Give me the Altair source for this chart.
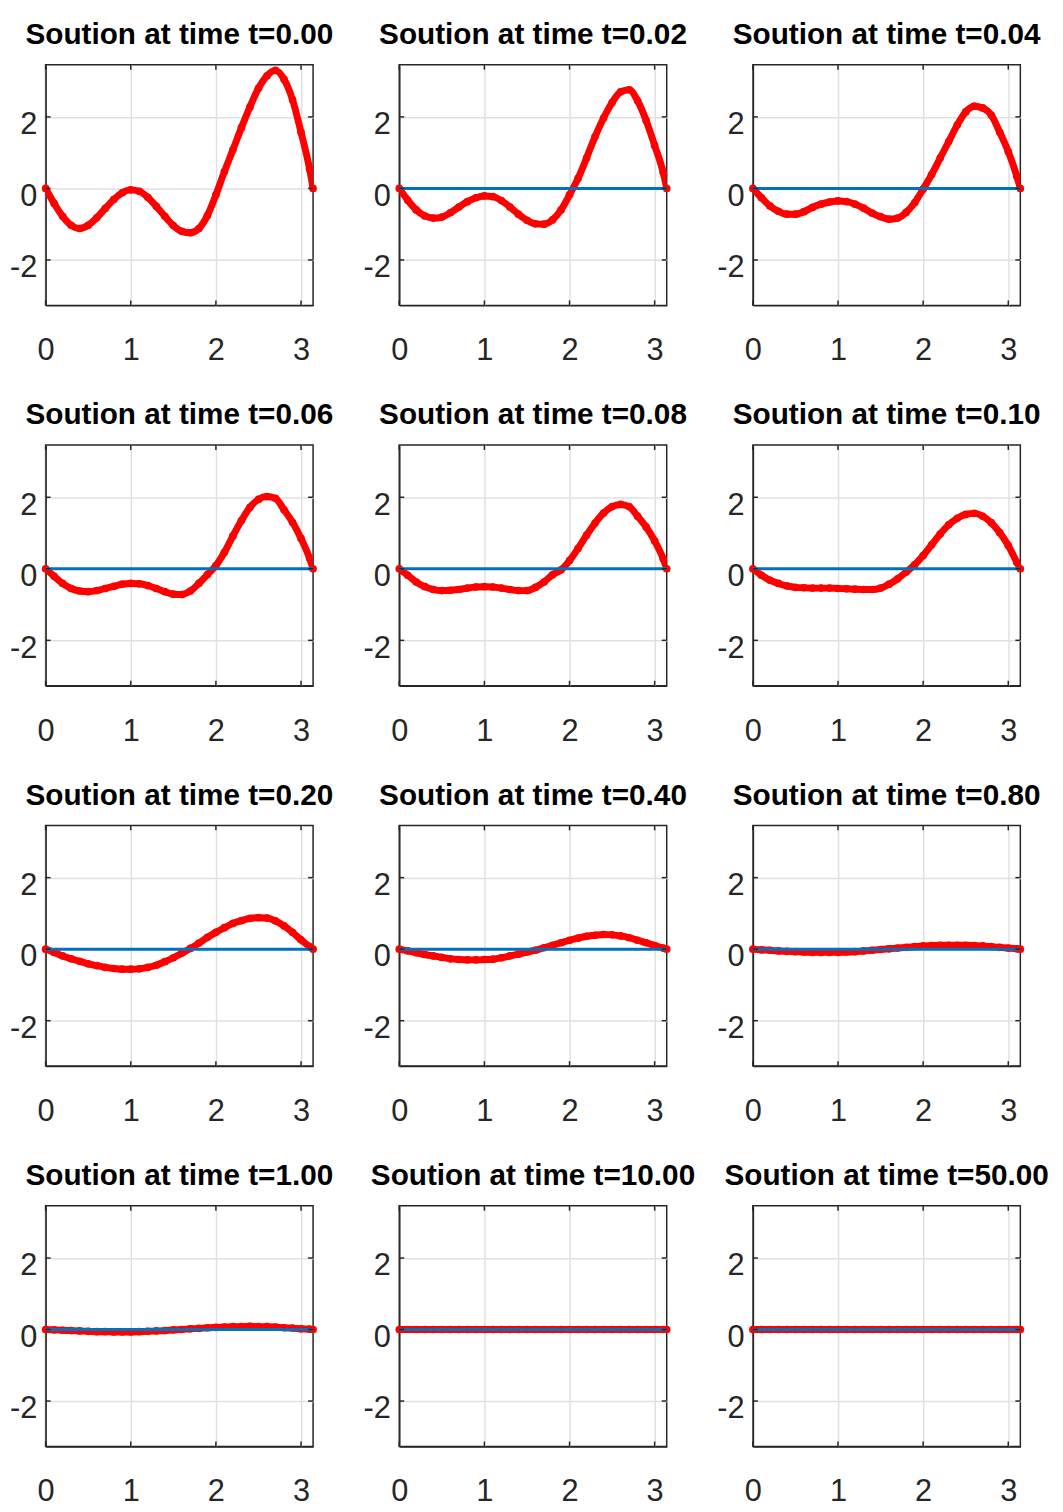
import altair as alt
import pandas as pd

# ---------------- data ----------------
X = [0.0, 0.1, 0.2, 0.3, 0.4, 0.5, 0.6, 0.7, 0.8, 0.9,
     1.0, 1.1, 1.2, 1.3, 1.4, 1.5, 1.6, 1.7, 1.8, 1.9,
     2.0, 2.1, 2.2, 2.3, 2.4, 2.5, 2.6, 2.7, 2.8, 2.9,
     3.0, 3.1, 3.1416]

TIMES = ["0.00", "0.02", "0.04", "0.06", "0.08", "0.10",
         "0.20", "0.40", "0.80", "1.00", "10.00", "50.00"]

U_000 = [0.0, -0.42, -0.78, -1.03, -1.12, -1.03, -0.82, -0.56, -0.31, -0.12,
         -0.04, -0.08, -0.25, -0.50, -0.78, -1.04, -1.20, -1.24, -1.12, -0.76,
         -0.18, 0.47, 1.08, 1.70, 2.28, 2.80, 3.15, 3.30, 3.05, 2.48,
         1.57, 0.55, 0.0]
U_002 = [0.0, -0.33, -0.60, -0.77, -0.83, -0.80, -0.68, -0.52, -0.37, -0.26,
         -0.21, -0.23, -0.34, -0.52, -0.72, -0.89, -0.99, -1.00, -0.88, -0.60,
         -0.18, 0.28, 0.85, 1.45, 1.97, 2.40, 2.70, 2.76, 2.45, 1.90,
         1.20, 0.45, 0.0]
U_004 = [0.0, -0.26, -0.49, -0.64, -0.72, -0.72, -0.65, -0.53, -0.44, -0.38,
         -0.35, -0.37, -0.44, -0.55, -0.69, -0.79, -0.86, -0.83, -0.67, -0.40,
         -0.02, 0.39, 0.85, 1.31, 1.77, 2.14, 2.30, 2.25, 2.05, 1.57,
         1.03, 0.34, 0.0]
U_006 = [0.0, -0.21, -0.41, -0.55, -0.62, -0.64, -0.61, -0.55, -0.49, -0.43,
         -0.41, -0.42, -0.47, -0.55, -0.64, -0.71, -0.72, -0.62, -0.41, -0.16,
         0.09, 0.46, 0.92, 1.35, 1.72, 1.94, 2.02, 1.97, 1.65, 1.30,
         0.85, 0.30, 0.0]
U_008 = [0.0, -0.18, -0.37, -0.50, -0.58, -0.61, -0.60, -0.58, -0.54, -0.51,
         -0.50, -0.51, -0.54, -0.58, -0.61, -0.61, -0.52, -0.37, -0.17, -0.03,
         0.23, 0.57, 0.94, 1.28, 1.56, 1.74, 1.80, 1.74, 1.47, 1.17,
         0.78, 0.28, 0.0]
U_010 = [0.0, -0.18, -0.32, -0.41, -0.48, -0.52, -0.53, -0.54, -0.54, -0.54,
         -0.55, -0.56, -0.57, -0.58, -0.58, -0.54, -0.43, -0.28, -0.09, 0.11,
         0.37, 0.67, 0.97, 1.23, 1.41, 1.52, 1.55, 1.47, 1.29, 1.01,
         0.65, 0.18, 0.0]
U_020 = [0.0, -0.09, -0.19, -0.27, -0.34, -0.41, -0.46, -0.51, -0.54, -0.56,
         -0.56, -0.55, -0.51, -0.45, -0.35, -0.24, -0.11, 0.02, 0.17, 0.33,
         0.47, 0.60, 0.72, 0.80, 0.86, 0.88, 0.87, 0.79, 0.65, 0.47,
         0.26, 0.07, 0.0]
U_040 = [0.0, -0.05, -0.10, -0.15, -0.19, -0.23, -0.27, -0.29, -0.30, -0.30,
         -0.29, -0.28, -0.24, -0.19, -0.14, -0.08, -0.03, 0.04, 0.11, 0.18,
         0.25, 0.31, 0.36, 0.39, 0.41, 0.40, 0.37, 0.32, 0.25, 0.18,
         0.10, 0.03, 0.0]
U_080 = [0.0, -0.02, -0.03, -0.05, -0.06, -0.07, -0.08, -0.09, -0.09, -0.09,
         -0.09, -0.08, -0.07, -0.05, -0.03, -0.01, 0.01, 0.03, 0.05, 0.07,
         0.09, 0.10, 0.11, 0.11, 0.11, 0.11, 0.10, 0.09, 0.07, 0.05,
         0.03, 0.01, 0.0]
U_100 = [0.0, -0.01, -0.02, -0.03, -0.04, -0.05, -0.06, -0.06, -0.07, -0.07,
         -0.07, -0.06, -0.05, -0.04, -0.03, -0.01, 0.00, 0.02, 0.03, 0.05,
         0.06, 0.07, 0.08, 0.08, 0.09, 0.08, 0.08, 0.07, 0.05, 0.04,
         0.02, 0.01, 0.0]
U_1000 = [0.0, 0.0, 0.0, 0.0, 0.0, 0.0, 0.0, 0.0, 0.0, 0.0,
          0.0, 0.0, 0.0, 0.0, 0.0, 0.0, 0.0, 0.0, 0.0, 0.0,
          0.0, 0.0, 0.0, 0.0, 0.0, 0.0, 0.0, 0.0, 0.0, 0.0,
          0.0, 0.0, 0.0]
U_5000 = [0.0, 0.0, 0.0, 0.0, 0.0, 0.0, 0.0, 0.0, 0.0, 0.0,
          0.0, 0.0, 0.0, 0.0, 0.0, 0.0, 0.0, 0.0, 0.0, 0.0,
          0.0, 0.0, 0.0, 0.0, 0.0, 0.0, 0.0, 0.0, 0.0, 0.0,
          0.0, 0.0, 0.0]

SERIES = [U_000, U_002, U_004, U_006, U_008, U_010,
          U_020, U_040, U_080, U_100, U_1000, U_5000]
SHOW_ZERO = [False, True, True, True, True, True,
             True, True, True, True, True, True]

XTICKS = [0, 1, 2, 3]
YTICKS = [-2, 0, 2]
XDOMAIN = [0, 3.14159]
YDOMAIN = [-3.27, 3.46]

# ---------------- style ----------------
W, H = 270, 243
DARK = "#262626"
GRID = "#e0e0e0"
RED = "#ff0000"
BLUE = "#0072bd"
FONT = "Liberation Sans"

xscale = alt.Scale(domain=XDOMAIN, nice=False, zero=False)
yscale = alt.Scale(domain=YDOMAIN, nice=False, zero=False)

xaxis = alt.Axis(values=XTICKS, format="d", title=None, grid=True,
                 gridColor=GRID, gridWidth=1.5, ticks=False, tickSize=0,
                 domain=True, domainColor=DARK, domainWidth=1.5,
                 labelFont=FONT, labelFontSize=31, labelColor=DARK,
                 labelPadding=31, labelFlush=False, labelOverlap=False)
yaxis = alt.Axis(values=YTICKS, title=None, grid=True,
                 gridColor=GRID, gridWidth=1.5, ticks=False, tickSize=0,
                 domain=True, domainColor=DARK, domainWidth=1.5,
                 labelFont=FONT, labelFontSize=31, labelColor=DARK,
                 labelPadding=9, labelOffset=8, labelFlush=False,
                 labelOverlap=False,
                 labelExpr="datum.value < 0 ? '-' + format(-datum.value, 'd') : format(datum.value, 'd')")


def xenc(f):
    return alt.X(f, type="quantitative", scale=xscale, axis=xaxis)


def yenc(f):
    return alt.Y(f, type="quantitative", scale=yscale, axis=yaxis)


xt_df = pd.DataFrame({"x": XTICKS})
yt_df = pd.DataFrame({"y": YTICKS})
zero_df = pd.DataFrame({"y": [0]})


def panel(i):
    df = pd.DataFrame({"x": X, "y": SERIES[i]})
    base = alt.Chart(df)
    layers = [
        base.mark_line(color=RED, strokeWidth=7, interpolate="monotone",
                       clip=True).encode(x=xenc("x"), y=yenc("y")),
        base.mark_circle(color=RED, size=60, opacity=1).encode(
            x=xenc("x"), y=yenc("y")),
    ]
    if SHOW_ZERO[i]:
        layers.append(alt.Chart(zero_df).mark_rule(color=BLUE, strokeWidth=3).encode(
            y=yenc("y")))
    # inward box ticks
    layers += [
        alt.Chart(xt_df).mark_rule(color=DARK, strokeWidth=1.5).encode(
            x=xenc("x"), y=alt.value(0), y2=alt.value(5)),
        alt.Chart(xt_df).mark_rule(color=DARK, strokeWidth=1.5).encode(
            x=xenc("x"), y=alt.value(H), y2=alt.value(H - 5)),
        alt.Chart(yt_df).mark_rule(color=DARK, strokeWidth=1.5).encode(
            y=yenc("y"), x=alt.value(0), x2=alt.value(5)),
        alt.Chart(yt_df).mark_rule(color=DARK, strokeWidth=1.5).encode(
            y=yenc("y"), x=alt.value(W), x2=alt.value(W - 5)),
    ]
    return alt.layer(*layers).properties(
        width=W, height=H,
        title=alt.TitleParams(text=f"Soution at time t={TIMES[i]}", font=FONT,
                              fontSize=30, fontWeight="bold", color="black",
                              anchor="middle", frame="group", offset=-10,
                              baseline="alphabetic"))


chart = alt.concat(*[panel(i) for i in range(12)], columns=3,
                   spacing={"row": 141, "column": 87}, bounds="flush"
).configure_view(
    stroke=DARK, strokeWidth=1.5
).properties(
    padding={"left": 0, "top": 4, "right": 5, "bottom": 5},
    background="white"
)

chart.save("out.html", embed_options={"renderer": "svg", "actions": False})
